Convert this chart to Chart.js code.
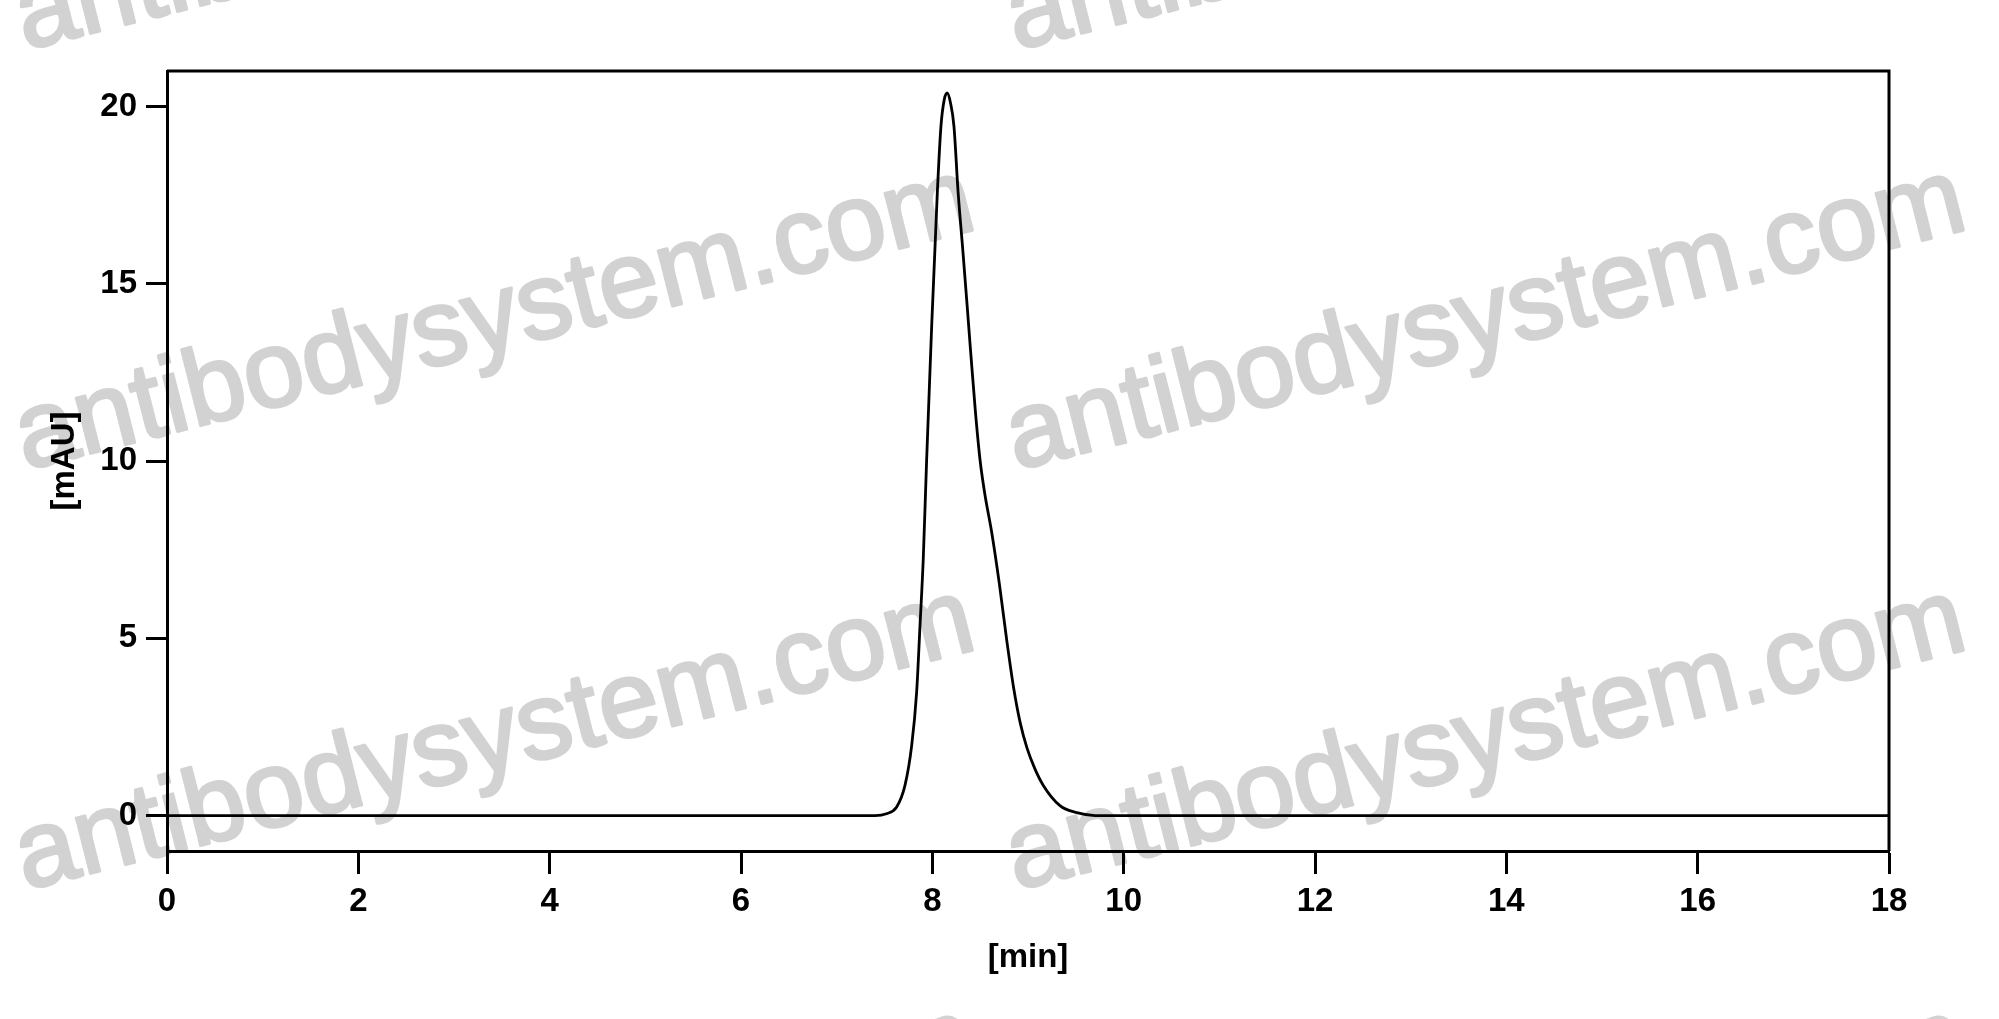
<!DOCTYPE html>
<html>
<head>
<meta charset="utf-8">
<script src="https://cdn.jsdelivr.net/npm/chart.js@4.4.1/dist/chart.umd.min.js"></script>
<style>
  html, body { margin: 0; padding: 0; background: #fff; }
  #wrap { width: 1999px; height: 1019px; }
</style>
</head>
<body>
<div id="wrap"><canvas id="chromatogram" width="1999" height="1019"></canvas></div>
<script>
// retention time [min] and absorbance [mAU]
var times = [0, 7.40, 7.52, 7.627, 7.714, 7.784, 7.836, 7.871, 7.905, 7.94, 7.993, 8.052, 8.09, 8.125, 8.156, 8.19, 8.226, 8.27, 8.32, 8.359, 8.40, 8.45, 8.50, 8.55, 8.62, 8.70, 8.78, 8.85, 8.92, 8.99, 9.07, 9.16, 9.334, 9.51, 9.70, 18];
var mau = [0, 0, 0.05, 0.24, 0.85, 1.97, 3.48, 5.35, 7.23, 10.0, 13.8, 17.56, 19.44, 20.2, 20.38, 20.1, 19.44, 17.56, 15.9, 14.55, 13.1, 11.4, 10.0, 9.05, 8.0, 6.55, 4.9, 3.6, 2.6, 1.9, 1.33, 0.85, 0.28, 0.08, 0, 0];
var xTicks = [0, 2, 4, 6, 8, 10, 12, 14, 16, 18];
var yTicks = [0, 5, 10, 15, 20];
var watermark = "antibodysystem.com";

!function() {
    "use strict";

    var font = '"Liberation Sans", Arial, Helvetica, sans-serif';

    // grey text stamped across the background
    var stamp = {
        id: "stamp",
        beforeDraw: function(c) {
            var ctx = c.ctx;
            ctx.save();
            ctx.fillStyle = "#fff";
            ctx.fillRect(0, 0, c.width, c.height);
            ctx.fillStyle = "#d2d2d2";
            ctx.strokeStyle = "#d2d2d2";
            ctx.lineWidth = 3;
            ctx.lineJoin = "round";
            ctx.font = "108px " + font;
            ctx.textBaseline = "alphabetic";
            [-370, 50, 470, 890, 1310].forEach(function(y) {
                [-966, 25, 1016].forEach(function(x) {
                    ctx.save();
                    ctx.translate(x, y);
                    ctx.rotate(-14.2 * Math.PI / 180);
                    ctx.fillText(watermark, 0, 0);
                    ctx.strokeText(watermark, 0, 0);
                    ctx.restore();
                });
            });
            ctx.restore();
        }
    };

    // closes the box on top and right
    var frame = {
        id: "frame",
        afterDatasetsDraw: function(c) {
            var a = c.chartArea, ctx = c.ctx;
            ctx.save();
            ctx.strokeStyle = "#000";
            ctx.lineWidth = 3;
            ctx.beginPath();
            ctx.moveTo(a.left, a.top);
            ctx.lineTo(a.right, a.top);
            ctx.lineTo(a.right, a.bottom);
            ctx.stroke();
            ctx.restore();
        }
    };

    Chart.defaults.font.family = font;
    Chart.defaults.color = "#000";

    new Chart(document.getElementById("chromatogram").getContext("2d"), {
        type: "line",
        data: {
            datasets: [{
                data: times.map(function(t, i) { return { x: t, y: mau[i] }; }),
                borderColor: "#000",
                borderWidth: 2.8,
                pointRadius: 0,
                fill: false,
                cubicInterpolationMode: "monotone"
            }]
        },
        options: {
            responsive: false,
            devicePixelRatio: 1,
            animation: false,
            layout: { padding: { top: 71, right: 110, left: 0, bottom: 0 } },
            plugins: { legend: { display: false }, tooltip: { enabled: false } },
            scales: {
                x: {
                    type: "linear",
                    min: 0,
                    max: 18,
                    afterBuildTicks: function(s) { s.ticks = xTicks.map(function(v) { return { value: v }; }); },
                    afterFit: function(s) { s.height = 168; },
                    grid: { drawOnChartArea: false, drawTicks: true, tickLength: 23, tickWidth: 3, tickColor: "#000" },
                    border: { display: true, color: "#000", width: 3 },
                    ticks: { padding: 8, font: { size: 33, weight: "bold" }, maxRotation: 0 },
                    title: { display: true, text: "[min]", font: { size: 33, weight: "bold" }, padding: { top: 0, bottom: 41 } }
                },
                y: {
                    type: "linear",
                    min: -1,
                    max: 21,
                    afterBuildTicks: function(s) { s.ticks = yTicks.map(function(v) { return { value: v }; }); },
                    afterFit: function(s) { s.width = 167; },
                    grid: { drawOnChartArea: false, drawTicks: true, tickLength: 21, tickWidth: 3, tickColor: "#000" },
                    border: { display: true, color: "#000", width: 3 },
                    ticks: { padding: 9, font: { size: 33, weight: "bold" } },
                    title: { display: true, text: "[mAU]", font: { size: 33, weight: "bold" }, padding: { top: 45, bottom: 0 } }
                }
            }
        },
        plugins: [stamp, frame]
    });
}();
</script>
</body>
</html>
